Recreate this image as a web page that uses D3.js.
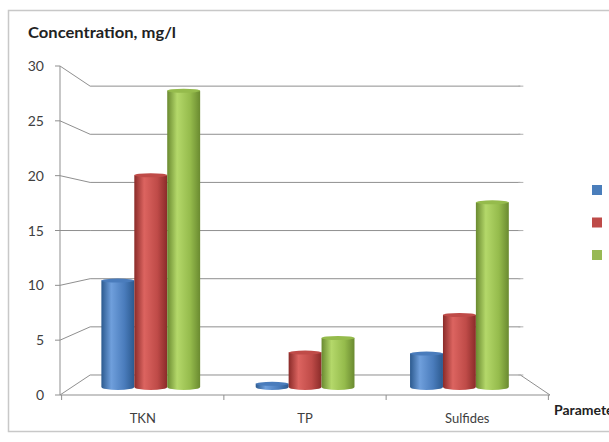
<!DOCTYPE html>
<html>
<head>
<meta charset="utf-8">
<script src="https://cdn.jsdelivr.net/npm/d3@7"></script>
<style>
  body { margin: 0; background: #fff; }
  text { font-family: Lato, "Open Sans", sans-serif; fill: #404040; }
</style>
</head>
<body>
<svg id="chart"></svg>
<script>
const categories = ["TKN", "TP", "Sulfides"];
const series = ["s1", "s2", "s3"];
const values = {
  s1: [10.2, 0.3, 3.2],
  s2: [20.3, 3.3, 6.9],
  s3: [28.4, 4.7, 17.7]
};
const yTicks = [0, 5, 10, 15, 20, 25, 30];
const colors = {
  s1: ["#2c5a8f", "#6f9fdc", "#4a7cbc"],
  s2: ["#8a2b29", "#dc6460", "#bf4b48"],
  s3: ["#6a8a30", "#b4d86a", "#95bb4c"]
};
const legendColors = ["#4a7ebb", "#be4b48", "#98b954"];

const width = 609;
const height = 442;
const svg = d3.select("#chart")
  .attr("width", width)
  .attr("height", height);

// chart frame
svg.append("rect")
  .attr("x", 8.5).attr("y", 10.5)
  .attr("width", 640).attr("height", 421)
  .attr("fill", "#fff")
  .attr("stroke", "#c8c8c8")
  .attr("stroke-width", 1.5);

// front plane scales
const y = d3.scaleLinear().domain([0, 30]).range([395, 66]);
const x = d3.scaleBand().domain(categories).range([60, 550])
  .paddingInner(0.36).paddingOuter(0.19);
const xSub = d3.scaleBand().domain(series).range([0, x.bandwidth()]);

// simple perspective toward a vanishing point, depth 0 = front, 1 = back wall
const vp = [307, 231];
const depth = d3.scaleLinear().domain([0, 1]).range([1, 0.878]);
function proj(px, py, z) {
  const s = depth(z);
  return [vp[0] + (px - vp[0]) * s, vp[1] + (py - vp[1]) * s];
}

const gridColor = "#8f8f8f";
const grid = svg.append("g").attr("stroke", gridColor).attr("stroke-width", 1).attr("fill", "none");

// back wall gridlines + connectors
yTicks.forEach(v => {
  const a = proj(60, y(v), 1), b = proj(550, y(v), 1);
  grid.append("line").attr("x1", a[0]).attr("y1", a[1]).attr("x2", b[0]).attr("y2", b[1]);
  grid.append("line").attr("x1", 60).attr("y1", y(v)).attr("x2", a[0]).attr("y2", a[1]);
  grid.append("line").attr("x1", 55).attr("y1", y(v)).attr("x2", 60).attr("y2", y(v));
  grid.append("line").attr("x1", b[0] - 2).attr("y1", b[1]).attr("x2", b[0] + 3).attr("y2", b[1])
    .attr("stroke", "#b0b0b0");
});

// floor
const fr = proj(550, y(0), 1);
grid.append("line").attr("x1", 550).attr("y1", y(0)).attr("x2", fr[0]).attr("y2", fr[1]);
grid.append("line").attr("x1", 60).attr("y1", y(0)).attr("x2", 550).attr("y2", y(0));
grid.append("line").attr("x1", 60).attr("y1", y(30)).attr("x2", 60).attr("y2", y(0));

// category boundary ticks
const step = x.step();
const bounds = categories.map(c => x(c) + x.bandwidth() / 2 - step / 2)
  .concat([x(categories[2]) + x.bandwidth() / 2 + step / 2]);
bounds.forEach(bx => {
  grid.append("line").attr("x1", bx).attr("y1", y(0)).attr("x2", bx).attr("y2", y(0) + 5);
});

// y tick labels
svg.append("g").selectAll("text").data(yTicks).enter().append("text")
  .attr("x", 44).attr("y", d => y(d) + 5)
  .attr("text-anchor", "end")
  .attr("font-size", 14)
  .text(d => d);

// category labels
svg.append("g").selectAll("text").data(categories).enter().append("text")
  .attr("x", d => x(d) + x.bandwidth() / 2)
  .attr("y", 423)
  .attr("text-anchor", "middle")
  .attr("font-size", 13)
  .text(d => d);

// axis titles
svg.append("text").attr("x", 28).attr("y", 38)
  .attr("font-size", 14.5).attr("font-weight", "bold")
  .attr("textLength", 148).attr("lengthAdjust", "spacingAndGlyphs")
  .style("fill", "#222")
  .text("Concentration, mg/l");
svg.append("text").attr("x", 554).attr("y", 415)
  .attr("font-size", 14).attr("font-weight", "bold")
  .style("fill", "#222")
  .text("Parameter");

// gradients for cylinders
const defs = svg.append("defs");
series.forEach(s => {
  const g = defs.append("linearGradient").attr("id", "grad-" + s)
    .attr("x1", 0).attr("x2", 1).attr("y1", 0).attr("y2", 0);
  g.append("stop").attr("offset", 0).attr("stop-color", colors[s][0]);
  g.append("stop").attr("offset", 0.3).attr("stop-color", colors[s][1]);
  g.append("stop").attr("offset", 0.7).attr("stop-color", colors[s][2]);
  g.append("stop").attr("offset", 1).attr("stop-color", colors[s][0]);
});

// bars as cylinders
const barZ = 0.4;
const bars = [];
categories.forEach((c, ci) => {
  series.forEach(s => {
    const x0 = x(c) + xSub(s);
    const x1 = x0 + xSub.bandwidth();
    const l = proj(x0, y(0), barZ), r = proj(x1, y(0), barZ);
    const t = proj(x0, y(values[s][ci]), barZ);
    bars.push({ s, left: l[0], right: r[0], base: l[1], top: t[1] });
  });
});

const ryB = 3, ryT = 2;
const barG = svg.append("g");
bars.forEach(b => {
  const rx = (b.right - b.left) / 2;
  const g = barG.append("g");
  g.append("path")
    .attr("d", `M${b.left},${b.top} L${b.left},${b.base} A${rx},${ryB} 0 0 0 ${b.right},${b.base} L${b.right},${b.top} Z`)
    .attr("fill", `url(#grad-${b.s})`);
  g.append("ellipse")
    .attr("cx", b.left + rx).attr("cy", b.top)
    .attr("rx", rx).attr("ry", ryT)
    .attr("fill", colors[b.s][2]);
});

// legend (labels fall outside the visible area)
svg.append("g").selectAll("rect").data(series).enter().append("rect")
  .attr("x", 592).attr("y", (d, i) => 185 + i * 32.5)
  .attr("width", 10).attr("height", 10)
  .attr("fill", (d, i) => legendColors[i]);
</script>
</body>
</html>
